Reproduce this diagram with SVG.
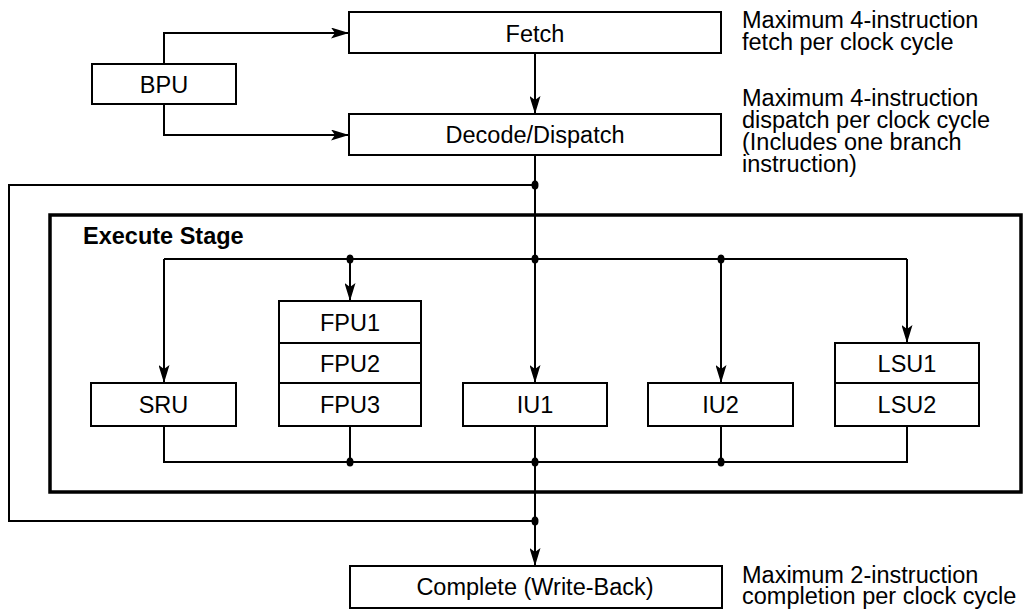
<svg xmlns="http://www.w3.org/2000/svg" width="1023" height="611" viewBox="0 0 1023 611">
<style>
.box{fill:#fff;stroke:#000;stroke-width:2}
.ln{fill:none;stroke:#000;stroke-width:2}
.lbl{font-family:"Liberation Sans",Arial,sans-serif;font-size:23.5px;text-anchor:middle;fill:#000}
.note{font-family:"Liberation Sans",Arial,sans-serif;font-size:23.5px;fill:#000}
.ttl{font-family:"Liberation Sans",Arial,sans-serif;font-size:23.5px;font-weight:bold;fill:#000}
.dot{fill:#000}
</style>
<defs>
<marker id="ah" viewBox="0 0 18 11" refX="18" refY="5.5" markerWidth="18" markerHeight="11" markerUnits="userSpaceOnUse" orient="auto">
<path d="M0,0 L18,5.5 L0,11 L4,5.5 z" fill="#000"/>
</marker>
</defs>
<rect width="1023" height="611" fill="#fff"/>
<g id="execute-stage">
<rect x="50" y="215" width="971" height="277" fill="none" stroke="#000" stroke-width="3.5"/>
<text class="ttl" x="83" y="244">Execute Stage</text>
</g>
<g id="connectors">
<path class="ln" d="M164,64 V33 H349" marker-end="url(#ah)"/>
<path class="ln" d="M164,104 V135 H349" marker-end="url(#ah)"/>
<path class="ln" d="M535,53 V114" marker-end="url(#ah)"/>
<path class="ln" d="M535,155 V259"/>
<path class="ln" d="M535,185 H9 V521 H535"/>
<path class="ln" d="M164,259 H907"/>
<path class="ln" d="M164,259 V383" marker-end="url(#ah)"/>
<path class="ln" d="M350,259 V301" marker-end="url(#ah)"/>
<path class="ln" d="M535,259 V383" marker-end="url(#ah)"/>
<path class="ln" d="M721,259 V383" marker-end="url(#ah)"/>
<path class="ln" d="M907,259 V343" marker-end="url(#ah)"/>
<path class="ln" d="M164,426 V462 H907 V426"/>
<path class="ln" d="M350,426 V462"/>
<path class="ln" d="M535,426 V462"/>
<path class="ln" d="M721,426 V462"/>
<path class="ln" d="M535,462 V566" marker-end="url(#ah)"/>
<ellipse class="dot" cx="535" cy="185" rx="3.5" ry="4.5"/>
<ellipse class="dot" cx="350" cy="259" rx="3.5" ry="4.5"/>
<ellipse class="dot" cx="535" cy="259" rx="3.5" ry="4.5"/>
<ellipse class="dot" cx="721" cy="259" rx="3.5" ry="4.5"/>
<ellipse class="dot" cx="350" cy="462" rx="3.5" ry="4.5"/>
<ellipse class="dot" cx="535" cy="462" rx="3.5" ry="4.5"/>
<ellipse class="dot" cx="721" cy="462" rx="3.5" ry="4.5"/>
<ellipse class="dot" cx="535" cy="521" rx="3.5" ry="4.5"/>
</g>
<g id="fetch">
<rect class="box" x="349" y="12" width="372" height="41"/>
<text class="lbl" x="535" y="42">Fetch</text>
</g>
<g id="bpu">
<rect class="box" x="92" y="64" width="144" height="40"/>
<text class="lbl" x="164" y="93">BPU</text>
</g>
<g id="decode">
<rect class="box" x="349" y="114" width="372" height="41"/>
<text class="lbl" x="535" y="143">Decode/Dispatch</text>
</g>
<g id="sru">
<rect class="box" x="91" y="383" width="145" height="43"/>
<text class="lbl" x="163.5" y="413">SRU</text>
</g>
<g id="fpu">
<rect class="box" x="279" y="301" width="142" height="42"/>
<text class="lbl" x="350" y="331">FPU1</text>
<rect class="box" x="279" y="343" width="142" height="40"/>
<text class="lbl" x="350" y="372">FPU2</text>
<rect class="box" x="279" y="383" width="142" height="43"/>
<text class="lbl" x="350" y="413">FPU3</text>
</g>
<g id="iu1">
<rect class="box" x="463" y="383" width="144" height="43"/>
<text class="lbl" x="535" y="413">IU1</text>
</g>
<g id="iu2">
<rect class="box" x="648" y="383" width="145" height="43"/>
<text class="lbl" x="720.5" y="413">IU2</text>
</g>
<g id="lsu">
<rect class="box" x="835" y="343" width="144" height="40"/>
<text class="lbl" x="907" y="372">LSU1</text>
<rect class="box" x="835" y="383" width="144" height="43"/>
<text class="lbl" x="907" y="413">LSU2</text>
</g>
<g id="complete">
<rect class="box" x="350" y="566" width="372" height="42"/>
<text class="lbl" x="535" y="595">Complete (Write-Back)</text>
</g>
<g id="notes">
<text class="note" x="742" y="28">Maximum 4-instruction</text>
<text class="note" x="742" y="50">fetch per clock cycle</text>
<text class="note" x="742" y="106">Maximum 4-instruction</text>
<text class="note" x="742" y="128">dispatch per clock cycle</text>
<text class="note" x="742" y="150">(Includes one branch</text>
<text class="note" x="742" y="172">instruction)</text>
<text class="note" x="742" y="583">Maximum 2-instruction</text>
<text class="note" x="742" y="604">completion per clock cycle</text>
</g>
</svg>
